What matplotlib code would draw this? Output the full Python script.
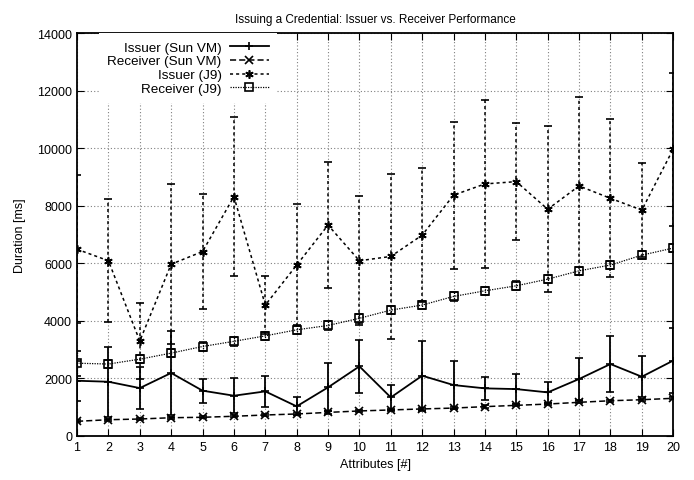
import numpy as np
import matplotlib.pyplot as plt

plt.rcParams['font.family'] = ['Liberation Sans', 'DejaVu Sans']

attrs = np.arange(1, 21)

issuer_sun = [1920, 1885, 1665, 2190, 1575, 1400, 1550, 1030, 1690, 2420,
              1340, 2095, 1770, 1655, 1630, 1515, 1980, 2500, 2060, 2620]
issuer_sun_err = [695, 1225, 735, 1470, 420, 600, 540, 310, 830, 925,
                  440, 1215, 820, 405, 520, 370, 720, 970, 710, 1140]

receiver_sun = [510, 565, 590, 635, 650, 685, 730, 765, 820, 870,
                905, 940, 970, 1020, 1065, 1110, 1170, 1225, 1260, 1310]
receiver_sun_err = [40, 40, 40, 40, 40, 40, 40, 40, 40, 40,
                    40, 40, 40, 40, 40, 40, 40, 40, 40, 40]

issuer_j9 = [6490, 6090, 3300, 5970, 6410, 8320, 4550, 5940, 7330, 6090,
             6240, 6980, 8370, 8760, 8840, 7880, 8690, 8260, 7850, 9970]
issuer_j9_err = [2570, 2140, 1320, 2780, 1990, 2760, 1020, 2120, 2200, 2240,
                 2880, 2340, 2550, 2920, 2030, 2890, 3100, 2740, 1630, 2660]

receiver_j9 = [2530, 2500, 2670, 2880, 3110, 3290, 3480, 3690, 3840, 4090,
               4375, 4550, 4850, 5045, 5220, 5450, 5740, 5940, 6285, 6530]
receiver_j9_err = [430, 150, 150, 150, 150, 150, 150, 150, 150, 150,
                   150, 150, 150, 150, 150, 150, 150, 150, 150, 150]

fig = plt.figure(figsize=(6.94, 4.81), dpi=100)
ax = fig.add_axes([0.111, 0.0915, 0.859, 0.8375])

series = [
    (issuer_sun, issuer_sun_err, 'Issuer (Sun VM)', '-', '+', 1.3, 'full'),
    (receiver_sun, receiver_sun_err, 'Receiver (Sun VM)', (0, (4, 2)), 'x', 1.1, 'full'),
    (issuer_j9, issuer_j9_err, 'Issuer (J9)', (0, (2, 2)), (6, 2, 0), 1.1, 'full'),
    (receiver_j9, receiver_j9_err, 'Receiver (J9)', (0, (1, 1)), 's', 0.9, 'none'),
]

handles = []
labels = []
for vals, err, label, ls, mk, lw, fill in series:
    cont = ax.errorbar(attrs, vals, yerr=err, color='black', linestyle=ls,
                       linewidth=lw, marker=mk, markersize=6, fillstyle=fill,
                       markeredgewidth=1.2, elinewidth=lw, capsize=3,
                       capthick=lw)
    cont[2][0].set_linestyle(ls)
    handles.append(cont[0])
    labels.append(label)

ax.set_xlim(1, 20)
ax.set_ylim(0, 14000)
ax.set_xticks(attrs)
ax.set_yticks(np.arange(0, 14001, 2000))
ax.grid(True, color='gray', linestyle=(0, (1, 2)), linewidth=0.8)
ax.tick_params(direction='in', top=True, right=True, labelsize=9, length=5)
for s in ax.spines.values():
    s.set_linewidth(1.3)

ax.set_title('Issuing a Credential: Issuer vs. Receiver Performance',
             fontsize=8.5, pad=8)
ax.set_xlabel('Attributes [#]', fontsize=9)
ax.set_ylabel('Duration [ms]', fontsize=9, labelpad=8)

ax.legend(handles, labels, loc='upper right', bbox_to_anchor=(0.335, 1.0),
          markerfirst=False, fontsize=9.7, frameon=True, facecolor='white',
          edgecolor='none', framealpha=1, fancybox=False, handlelength=2.9,
          labelspacing=0.1, borderpad=0.6, handletextpad=0.6,
          borderaxespad=0.0)

fig.savefig('out.png', dpi=100)
